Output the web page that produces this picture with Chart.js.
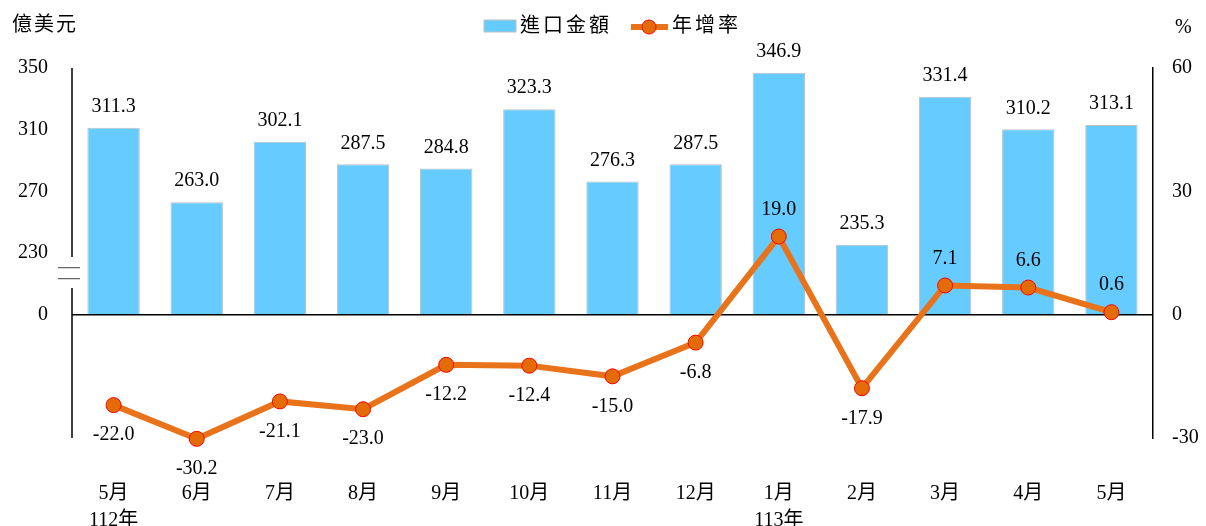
<!DOCTYPE html>
<html>
<head>
<meta charset="utf-8">
<script src="https://cdn.jsdelivr.net/npm/chart.js@4"></script>
<style>
  html, body { margin: 0; padding: 0; background: #fff; }
  #wrap { width: 1206px; height: 526px; position: relative; }
</style>
</head>
<body>
<div id="wrap"><canvas id="importChart"></canvas></div>
<script>
const categories = [['5月', '112年'], '6月', '7月', '8月', '9月', '10月', '11月', '12月', ['1月', '113年'], '2月', '3月', '4月', '5月'];
const importValues = [311.3, 263.0, 302.1, 287.5, 284.8, 323.3, 276.3, 287.5, 346.9, 235.3, 331.4, 310.2, 313.1];
const growthRates = [-22.0, -30.2, -21.1, -23.0, -12.2, -12.4, -15.0, -6.8, 19.0, -17.9, 7.1, 6.6, 0.6];
const leftTickLabels = ['0', '230', '270', '310', '350'];
const rightTickLabels = ['-30', '0', '30', '60'];

const FONT = "'Liberation Serif', 'Noto Sans CJK TC', serif";
const BAR_COLOR = '#66CCFF';
const LINE_COLOR = '#E8731A';

// left axis is broken: 0 sits on the % zero line, 230..350 fills 15..60 on the % scale
function toBreakScale(v) {
  return 15 + (v - 230) * 45 / 120;
}
const barHeights = importValues.map(toBreakScale);

const extras = {
  id: 'extras',
  afterDatasetsDraw(chart) {
    const ctx = chart.ctx;
    const y = chart.scales.y;
    ctx.save();
    ctx.fillStyle = '#000';
    ctx.font = '20px ' + FONT;
    ctx.textAlign = 'center';
    ctx.textBaseline = 'middle';
    chart.getDatasetMeta(1).data.forEach((bar, i) => {
      ctx.fillText(importValues[i].toFixed(1), bar.x, bar.y - 21);
    });
    chart.getDatasetMeta(0).data.forEach((pt, i) => {
      const v = growthRates[i];
      ctx.fillText(v.toFixed(1), pt.x, v >= 0 ? pt.y - 27 : pt.y + 30);
    });

    // left axis line with break
    const x0 = chart.chartArea.left;
    const gapTop = y.getPixelForValue(14);
    const gapBot = y.getPixelForValue(6.5);
    ctx.strokeStyle = '#000';
    ctx.lineWidth = 1.5;
    ctx.beginPath();
    ctx.moveTo(x0, y.getPixelForValue(60));
    ctx.lineTo(x0, gapTop);
    ctx.moveTo(x0, gapBot);
    ctx.lineTo(x0, y.getPixelForValue(-30));
    ctx.stroke();
    ctx.strokeStyle = '#666';
    ctx.lineWidth = 1.2;
    const mid = (gapTop + gapBot) / 2;
    ctx.beginPath();
    ctx.moveTo(x0 - 14, mid - 5);
    ctx.lineTo(x0 + 8, mid - 5);
    ctx.moveTo(x0 - 14, mid + 6);
    ctx.lineTo(x0 + 8, mid + 6);
    ctx.stroke();

    // unit labels
    ctx.fillStyle = '#000';
    ctx.font = '20px ' + FONT;
    ctx.textAlign = 'left';
    ctx.letterSpacing = '2px';
    ctx.fillText('億美元', 12, 26);
    ctx.letterSpacing = '0px';
    ctx.fillText('%', 1175, 28);

    // legend
    ctx.fillStyle = BAR_COLOR;
    ctx.fillRect(484, 20, 32, 12);
    ctx.strokeStyle = '#BFBFBF';
    ctx.lineWidth = 1;
    ctx.strokeRect(484, 20, 32, 12);
    ctx.fillStyle = '#000';
    ctx.letterSpacing = '3px';
    ctx.fillText('進口金額', 520, 27);
    ctx.strokeStyle = LINE_COLOR;
    ctx.lineWidth = 6;
    ctx.beginPath();
    ctx.moveTo(631, 27);
    ctx.lineTo(668, 27);
    ctx.stroke();
    ctx.beginPath();
    ctx.arc(649, 27, 7, 0, Math.PI * 2);
    ctx.fillStyle = '#E36C09';
    ctx.fill();
    ctx.strokeStyle = '#FF0000';
    ctx.lineWidth = 1;
    ctx.stroke();
    ctx.fillStyle = '#000';
    ctx.fillText('年增率', 672, 27);
    ctx.restore();
  }
};

new Chart(document.getElementById('importChart'), {
  type: 'bar',
  data: {
    labels: categories,
    datasets: [
      {
        type: 'line',
        label: '年增率',
        data: growthRates,
        yAxisID: 'y1',
        borderColor: LINE_COLOR,
        borderWidth: 6,
        pointRadius: 7.5,
        pointBackgroundColor: '#E36C09',
        pointBorderColor: '#FF0000',
        pointBorderWidth: 1,
        tension: 0,
        clip: false,
        order: 0
      },
      {
        label: '進口金額',
        data: barHeights,
        yAxisID: 'y',
        backgroundColor: BAR_COLOR,
        borderColor: '#BFBFBF',
        borderWidth: 1,
        barPercentage: 0.63,
        categoryPercentage: 1,
        order: 1
      }
    ]
  },
  options: {
    responsive: true,
    maintainAspectRatio: false,
    animation: false,
    layout: { padding: { top: 68, left: 0, right: 0, bottom: 0 } },
    plugins: {
      legend: { display: false },
      tooltip: { enabled: false }
    },
    scales: {
      x: {
        afterFit(scale) { scale.height = 88; },
        grid: { display: false },
        border: { display: false },
        ticks: {
          color: '#000',
          padding: 34,
          maxRotation: 0,
          autoSkip: false,
          font: { family: FONT, size: 20, lineHeight: 1.35 }
        }
      },
      y: {
        position: 'left',
        min: -30,
        max: 60,
        afterFit(scale) { scale.width = 72; },
        border: { display: false },
        grid: {
          drawTicks: false,
          color: (c) => (c.tick && c.tick.value === 0 ? '#000' : 'rgba(0,0,0,0)'),
          lineWidth: 1.5
        },
        ticks: {
          stepSize: 15,
          padding: 24,
          color: '#000',
          font: { family: FONT, size: 20 },
          callback: (v) => (v >= 0 ? leftTickLabels[v / 15] : '')
        }
      },
      y1: {
        position: 'right',
        min: -30,
        max: 60,
        afterFit(scale) { scale.width = 53; },
        border: { display: true, color: '#000', width: 1.5 },
        grid: { display: false, drawTicks: false },
        ticks: {
          stepSize: 30,
          padding: 19,
          color: '#000',
          font: { family: FONT, size: 20 },
          callback: (v) => rightTickLabels[(v + 30) / 30]
        }
      }
    }
  },
  plugins: [extras]
});
</script>
</body>
</html>
